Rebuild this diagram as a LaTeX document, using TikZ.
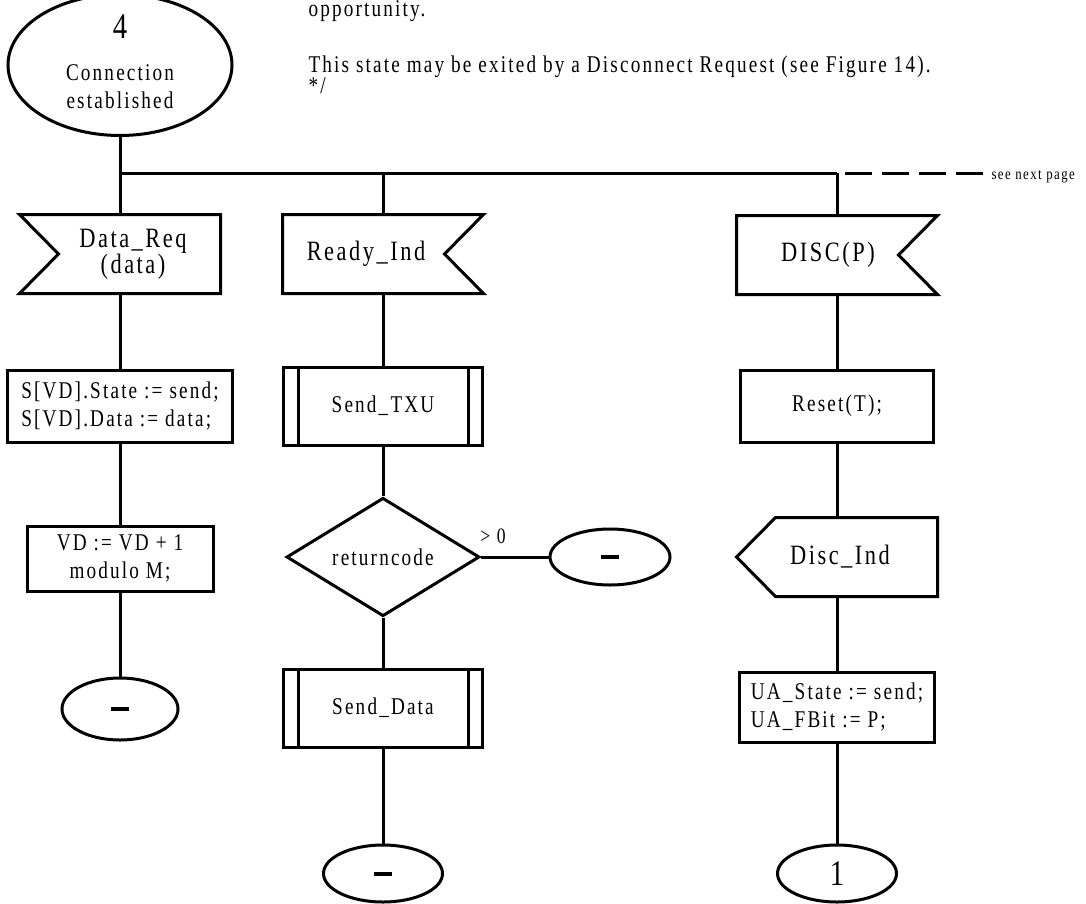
\documentclass[tikz,border=0pt]{standalone}
\usepackage{fontspec}
\setmainfont{Liberation Serif}[FakeStretch=0.8,LetterSpace=9]
\usetikzlibrary{shapes.geometric}
\begin{document}
\begin{tikzpicture}[x=0.5pt,y=-0.5pt,line width=1.5pt,
  txt/.style={font=\fontsize{12}{14}\selectfont,inner sep=0pt},
  procbox/.style={draw,rectangle,inner sep=0pt,font=\fontsize{12}{14}\selectfont,align=center},
  subrbox/.style={procbox,minimum width=99.5pt,minimum height=39pt},
  sigbox/.style={rectangle,inner sep=0pt,minimum width=99pt,minimum height=38pt},
  sigtext/.style={font=\fontsize{14}{13}\selectfont,align=center,inner sep=0pt},
  endcirc/.style={draw,ellipse,inner sep=0pt,minimum width=59.5pt,minimum height=28.5pt},
  decbox/.style={draw,diamond,inner sep=0pt,minimum width=96.5pt,minimum height=50pt,font=\fontsize{12}{14}\selectfont}]
\useasboundingbox (0,0) rectangle (1086,904);

% comment text
\node[txt,anchor=base west] (cmt1) at (307,17) {opportunity.};
\node[txt,anchor=base west] (cmt2) at (307,73) {This state may be exited by a Disconnect Request (see Figure 14).};
\node[txt,anchor=base west] (cmt3) at (307,94) {*/};

% state and bus
\node[draw,ellipse,minimum width=112pt,minimum height=60pt,inner sep=0pt,align=center,text depth=3pt,font=\fontsize{12}{14}\selectfont] (conn) at (120,65) {{\fontsize{18}{18}\selectfont 4}\\[7pt]Connection\\established};
\coordinate (bus1) at (120,173);
\coordinate (bus2) at (383,173);
\coordinate (bus3) at (837,173);
\coordinate (next) at (985,173);
\draw (conn.south) -- (bus1) -- (bus3);
\draw[dash pattern=on 13.5pt off 5pt,dash phase=14.5pt] (bus3) -- (next);
\node[font=\fontsize{8}{8}\selectfont,anchor=base west,inner sep=0pt] (nxt) at (990,179) {see next page};

% Data_Req branch
\node[sigbox] (dreq) at (120,254) {};
\node[sigtext] (dreqt) at ([xshift=6.5pt]dreq.center) {Data\_Req\\(data)};
\node[procbox,minimum width=112.5pt,minimum height=36pt,align=left] (sstate) at (120,406) {S[VD].State := send;\\S[VD].Data := data;};
\node[procbox,minimum width=93pt,minimum height=32.5pt] (vdinc) at (120,558.5) {VD := VD + 1\\modulo M;};
\node[endcirc,minimum width=58pt,minimum height=31pt] (stop1) at (120,709) {\rule{9pt}{2pt}};

% Ready_Ind branch
\node[sigbox] (ready) at (383,254) {};
\node[sigtext] (readyt) at ([xshift=-8.5pt]ready.center) {Ready\_Ind};
\node[subrbox] (stxu) at (383,406) {Send\_TXU};
\node[decbox] (rc) at (383,557) {returncode};
\node[endcirc,minimum width=60pt,minimum height=28pt] (stop3) at (610,557) {\rule{9pt}{2pt}};
\node[font=\fontsize{11}{11}\selectfont,anchor=base,inner sep=0pt] (gt) at (493,543) {> 0};
\node[subrbox] (sdata) at (383,708) {Send\_Data};
\node[endcirc] (stop2) at (383,873.5) {\rule{9pt}{2pt}};

% DISC branch
\node[sigbox] (disc) at (837,255) {};
\node[sigtext] (disct) at ([xshift=-4.5pt]disc.center) {DISC(P)};
\node[procbox,minimum width=96.5pt,minimum height=36pt] (reset) at (837,406) {Reset(T);};
\node[sigbox] (dind) at (837,557) {};
\node[sigtext] (dindt) at ([xshift=1.5pt]dind.center) {Disc\_Ind};
\node[procbox,minimum width=97.5pt,minimum height=35pt,align=left] (uaset) at (837,707) {UA\_State := send;\\UA\_FBit := P;};
\node[endcirc] (one) at (837,873.5) {\fontsize{18}{18}\selectfont 1};

% signal outlines
\draw (dreq.north west) -- (dreq.north east) -- (dreq.south east) -- (dreq.south west) -- ([xshift=19.5pt]dreq.west) -- cycle;
\foreach \n in {ready,disc}
  \draw (\n.north east) -- (\n.north west) -- (\n.south west) -- (\n.south east) -- ([xshift=-19.5pt]\n.east) -- cycle;
\draw (dind.west) -- ([xshift=19.5pt]dind.north west) -- (dind.north east) -- (dind.south east) -- ([xshift=19.5pt]dind.south west) -- cycle;
\foreach \n in {stxu,sdata} {
  \draw ([xshift=8pt]\n.north west) -- ([xshift=8pt]\n.south west);
  \draw ([xshift=-8pt]\n.north east) -- ([xshift=-8pt]\n.south east);
}

% connectors
\draw (bus1) -- (dreq.north);
\draw (dreq.south) -- (sstate.north);
\draw (sstate.south) -- (vdinc.north);
\draw (vdinc.south) -- (stop1.north);
\draw (bus2) -- (ready.north);
\draw (ready.south) -- (stxu.north);
\draw (stxu.south) -- (rc.north);
\draw (rc.east) -- (stop3.west);
\draw (rc.south) -- (sdata.north);
\draw (sdata.south) -- (stop2.north);
\draw (bus3) -- (disc.north);
\draw (disc.south) -- (reset.north);
\draw (reset.south) -- (dind.north);
\draw (dind.south) -- (uaset.north);
\draw (uaset.south) -- (one.north);
\end{tikzpicture}
\end{document}
